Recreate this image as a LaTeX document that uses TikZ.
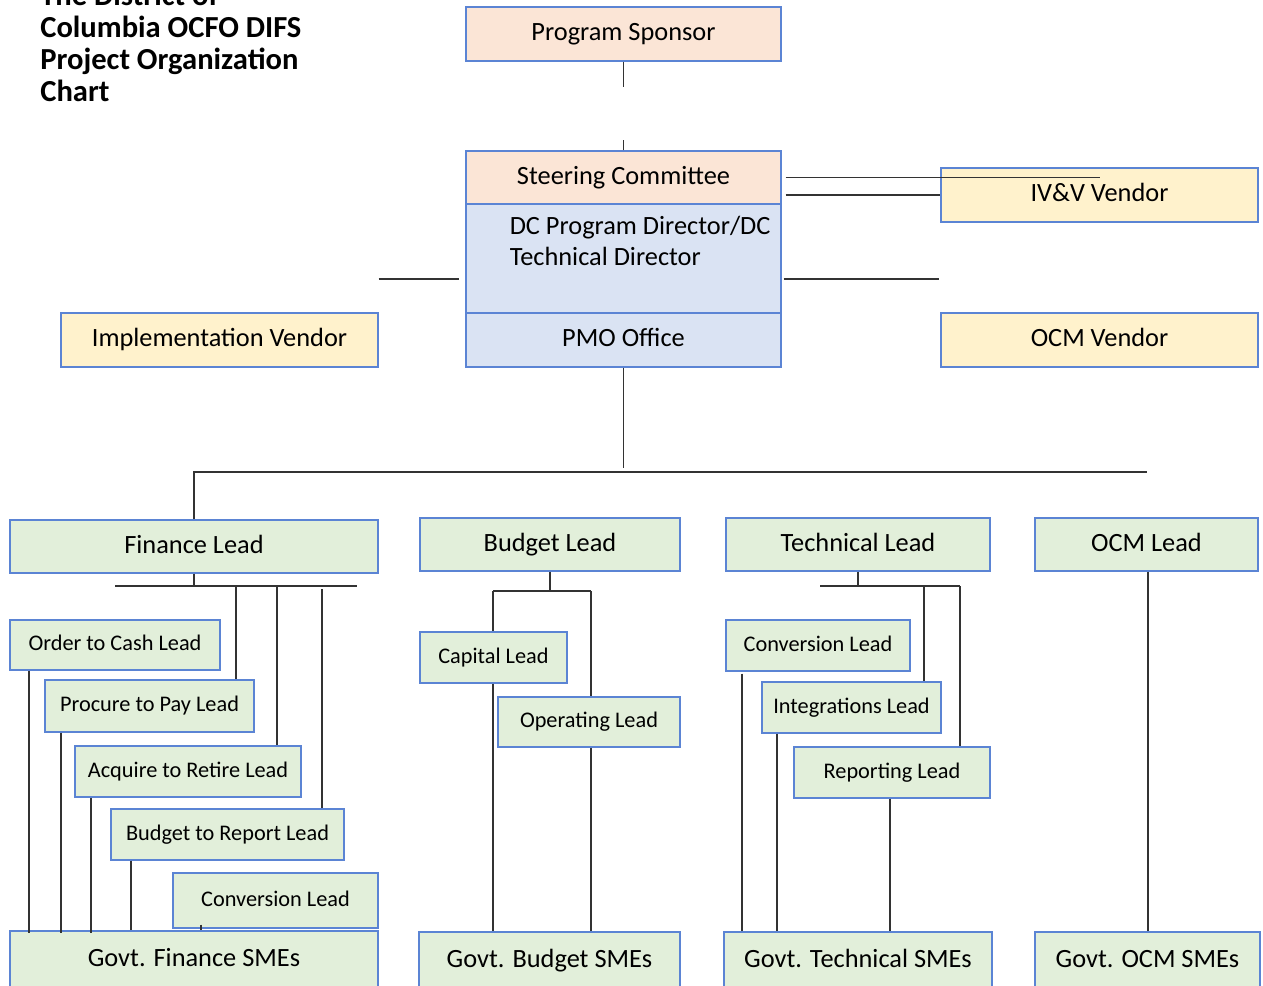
\documentclass[tikz,border=0pt]{standalone}
\usepackage{fontspec}
\setmainfont{Carlito}
\usetikzlibrary{calc}

\definecolor{boxline}{HTML}{5B84D4}
\definecolor{peach}{HTML}{FBE5D6}
\definecolor{paleblue}{HTML}{DAE3F3}
\definecolor{paleyellow}{HTML}{FFF2CC}
\definecolor{palegreen}{HTML}{E2EFDA}
\definecolor{linegray}{HTML}{333333}

\tikzset{
    orgbox/.style={draw=boxline, line width=0.7pt, inner sep=0pt, text height=10.5pt, text depth=3pt, font=\fontsize{15}{18}\selectfont},
    topbox/.style={orgbox, fill=peach},
    pmobox/.style={orgbox, fill=paleblue},
    vendorbox/.style={orgbox, fill=paleyellow},
    leadbox/.style={orgbox, fill=palegreen},
    sublead/.style={leadbox, text height=8.9pt, text depth=2.5pt, font=\fontsize{12.7}{15}\selectfont},
    wire/.style={draw=linegray, line width=0.6pt}
}

\begin{document}
\begin{tikzpicture}[x=0.02cm, y=-0.02cm]
    \useasboundingbox (0,0) rectangle (1263,986);

    % title
    \node[anchor=north west, inner sep=0pt, align=left, font=\bfseries\fontsize{17.4}{18.2}\selectfont] (title) at (40,-16) {The District of\\Columbia OCFO DIFS\\Project Organization\\Chart};

    % top of the chart
    \node[topbox, minimum width=6.3cm, minimum height=1.08cm] (sponsor) at (623.5,34) {Program Sponsor};
    \node[topbox, minimum width=6.3cm, minimum height=1.06cm] (steer) at (623.5,177.5) {Steering Committee};
    \node[pmobox, minimum width=6.3cm, minimum height=2.18cm] (dcdir) at (623.5,258.5) {};
    \node[anchor=north west, inner sep=0pt, align=left, font=\fontsize{15}{18}\selectfont] (dcdirtext) at ($(dcdir.north west)+(44,12)$) {DC Program Director/DC\\Technical Director};
    \node[pmobox, minimum width=6.3cm, minimum height=1.08cm] (pmo) at (623.5,340) {PMO Office};

    % vendors
    \node[vendorbox, minimum width=6.34cm, minimum height=1.08cm] (ivv) at (1099.5,195) {IV\&V Vendor};
    \node[vendorbox, minimum width=6.34cm, minimum height=1.08cm] (impl) at (219.5,340) {Implementation Vendor};
    \node[vendorbox, minimum width=6.34cm, minimum height=1.08cm] (ocmv) at (1099.5,340) {OCM Vendor};

    % leads
    \node[leadbox, minimum width=7.36cm, minimum height=1.06cm] (fin) at (194,546.5) {Finance Lead};
    \node[leadbox, minimum width=5.2cm, minimum height=1.06cm] (bud) at (550,544.5) {Budget Lead};
    \node[leadbox, minimum width=5.28cm, minimum height=1.06cm] (tech) at (858,544.5) {Technical Lead};
    \node[leadbox, minimum width=4.46cm, minimum height=1.06cm] (ocml) at (1146.5,544.5) {OCM Lead};

    % finance
    \node[sublead, minimum width=4.2cm, minimum height=1.0cm] (otc) at (115,645) {Order to Cash Lead};
    \node[sublead, minimum width=4.18cm, minimum height=1.04cm] (ptp) at (149.5,706) {Procure to Pay Lead};
    \node[sublead, minimum width=4.52cm, minimum height=1.02cm] (atr) at (188,771.5) {Acquire to Retire Lead};
    \node[sublead, minimum width=4.66cm, minimum height=1.02cm] (btr) at (227.5,834.5) {Budget to Report Lead};
    \node[sublead, minimum width=4.1cm, minimum height=1.1cm] (fconv) at (275.5,900.5) {Conversion Lead};
    \node[leadbox, minimum width=7.36cm, minimum height=1.16cm] (gfin) at (194,960) {Govt. Finance SMEs};

    % budget
    \node[sublead, minimum width=2.94cm, minimum height=1.02cm] (capl) at (493.5,657.5) {Capital Lead};
    \node[sublead, minimum width=3.64cm, minimum height=1.0cm] (opl) at (589,722) {Operating Lead};
    \node[leadbox, minimum width=5.22cm, minimum height=1.16cm] (gbud) at (549.5,961) {Govt. Budget SMEs};

    % technical
    \node[sublead, minimum width=3.68cm, minimum height=1.02cm] (tconv) at (818,645.5) {Conversion Lead};
    \node[sublead, minimum width=3.58cm, minimum height=1.02cm] (intl) at (851.5,707.5) {Integrations Lead};
    \node[sublead, minimum width=3.92cm, minimum height=1.02cm] (repl) at (892,772.5) {Reporting Lead};
    \node[leadbox, minimum width=5.36cm, minimum height=1.16cm] (gtec) at (858,961) {Govt. Technical SMEs};

    % ocm
    \node[leadbox, minimum width=4.5cm, minimum height=1.16cm] (gocm) at (1147.5,961) {Govt. OCM SMEs};

    % connectors, top
    \draw[wire] (sponsor.south) -- ++(0,25);
    \draw[wire] (steer.north) -- ++(0,-10);
    \draw[wire] ($(steer.east)+(4,0)$) -- (steer.east -| ivv.center);
    \draw[wire] ($(steer.east |- ivv.west)+(4,0)$) -- (ivv.west);
    \coordinate (side) at ($(dcdir.center)+(0,20.5)$);
    \draw[wire] (side -| impl.east) -- ($(side -| dcdir.west)+(-6,0)$);
    \draw[wire] ($(side -| dcdir.east)+(2,0)$) -- ($(side -| ocmv.west)+(-1,0)$);

    % connectors, leads
    \coordinate (bus) at (623.5,472);
    \draw[wire] (pmo.south) -- ($(bus)+(0,-4)$);
    \draw[wire] (fin.north) |- (bus) -- (bus -| ocml.center);

    % connectors, finance
    \draw[wire] (fin.south) -- (fin.south |- 0,586);
    \draw[wire] (115,586) -- (357,586);
    \draw[wire] (236,586) -- (ptp.north -| 236,0);
    \draw[wire] (277,586) -- (atr.north -| 277,0);
    \draw[wire] (322,589) -- (btr.north -| 322,0);
    \draw[wire] (otc.south -| 29,0) -- ($(gfin.north -| 29,0)+(0,3)$);
    \draw[wire] (ptp.south -| 61,0) -- ($(gfin.north -| 61,0)+(0,3)$);
    \draw[wire] (atr.south -| 91,0) -- ($(gfin.north -| 91,0)+(0,3)$);
    \draw[wire] (btr.south -| 131,0) -- (gfin.north -| 131,0);
    \draw[wire] ($(fconv.south -| 201,0)+(0,-4)$) -- (gfin.north -| 201,0);

    % connectors, budget
    \draw[wire] (bud.south) -- (bud.south |- 0,591);
    \draw[wire] (493,591) -- (591,591);
    \draw[wire] (493,591) -- (capl.north -| 493,0);
    \draw[wire] (591,591) -- (opl.north -| 591,0);
    \draw[wire] (capl.south -| 493,0) -- (gbud.north -| 493,0);
    \draw[wire] (opl.south -| 591,0) -- (gbud.north -| 591,0);

    % connectors, technical
    \draw[wire] (tech.south) -- (tech.south |- 0,586);
    \draw[wire] (820,586) -- (960,586);
    \draw[wire] (924,586) -- (intl.north -| 924,0);
    \draw[wire] (960,586) -- (repl.north -| 960,0);
    \draw[wire] ($(tconv.south -| 742,0)+(0,2)$) -- (gtec.north -| 742,0);
    \draw[wire] (intl.south -| 777,0) -- (gtec.north -| 777,0);
    \draw[wire] (repl.south -| 890,0) -- (gtec.north -| 890,0);

    % connectors, ocm
    \draw[wire] (ocml.south -| 1148,0) -- (gocm.north -| 1148,0);
\end{tikzpicture}
\end{document}
